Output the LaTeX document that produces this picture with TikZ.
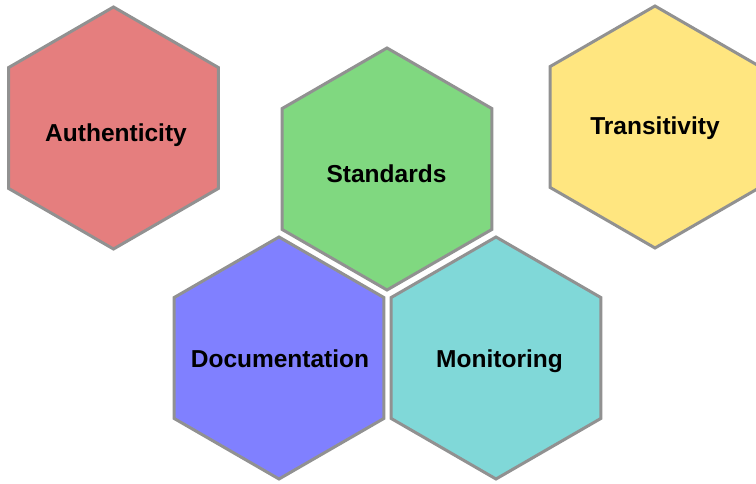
\documentclass[tikz,border=0pt]{standalone}
\usepackage{fontspec}
\setmainfont{Liberation Sans}
\usetikzlibrary{shapes.geometric}
\definecolor{hexline}{RGB}{145,145,145}
\definecolor{cauth}{RGB}{229,126,126}
\definecolor{cstand}{RGB}{128,216,128}
\definecolor{ctrans}{RGB}{255,230,128}
\definecolor{cdoc}{RGB}{128,128,255}
\definecolor{cmon}{RGB}{128,216,216}
\tikzset{
  hexcell/.style={regular polygon, regular polygon sides=6, shape border rotate=90,
    minimum size=242pt, inner sep=0pt, outer sep=0pt, draw=hexline, line width=3pt, fill=#1},
  hexlabel/.style={anchor=base, inner sep=0pt, font=\fontsize{24.5}{29}\selectfont\bfseries, text=black}
}
\begin{document}
\begin{tikzpicture}[x=1pt,y=1pt]
\useasboundingbox (0,0) rectangle (756,483);
\node[hexcell=cauth] (auth) at (113.5,355) {};
\node[hexcell=cstand] (stand) at (387,314) {};
\node[hexcell=ctrans] (trans) at (655,356) {};
\node[hexcell=cdoc] (doc) at (279,125) {};
\node[hexcell=cmon] (mon) at (496,125) {};
\node[hexlabel] (tauth) at (116,341) {Authenticity};
\node[hexlabel] (tstand) at (386.5,300) {Standards};
\node[hexlabel] (ttrans) at (655,348) {Transitivity};
\node[hexlabel] (tdoc) at (280,116) {Documentation};
\node[hexlabel] (tmon) at (499.5,116) {Monitoring};
\end{tikzpicture}
\end{document}
